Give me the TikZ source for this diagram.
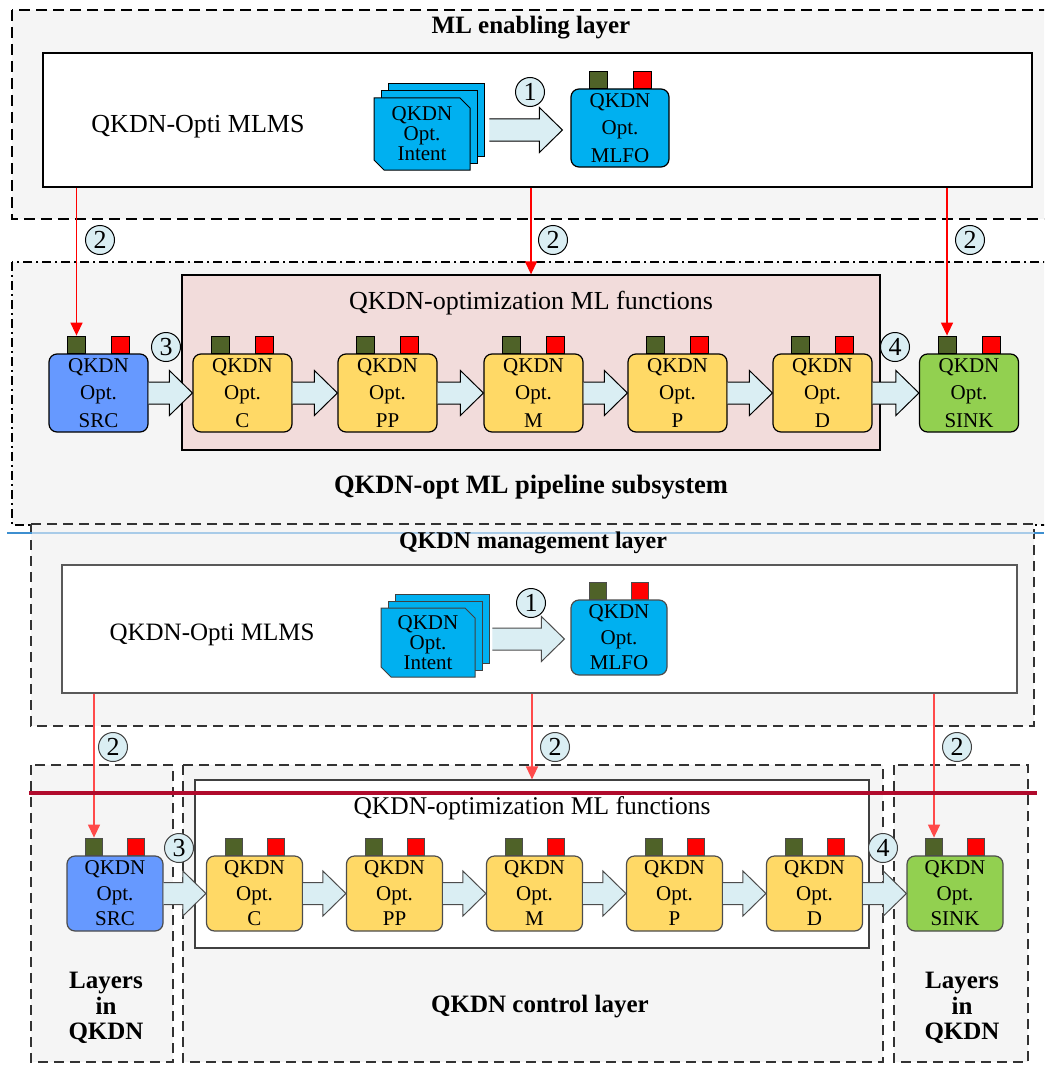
\documentclass[tikz,border=0pt]{standalone}
\usepackage{fontspec}
\setmainfont{Liberation Serif}
\usetikzlibrary{arrows.meta,shapes.misc,calc}
\definecolor{bggray}{HTML}{F5F5F5}
\definecolor{cyanbox}{HTML}{00B0F0}
\definecolor{srcblue}{HTML}{6699FF}
\definecolor{yel}{HTML}{FFD966}
\definecolor{grn}{HTML}{92D050}
\definecolor{portg}{HTML}{4F6228}
\definecolor{portr}{HTML}{FF0000}
\definecolor{arrfill}{HTML}{DAEEF3}
\definecolor{pinkbox}{HTML}{F2DCDB}
\definecolor{lineblue}{HTML}{3D8FD0}
\definecolor{lineblue2}{HTML}{A8CBE8}
\definecolor{darkred}{HTML}{B00A2C}
\definecolor{redl}{HTML}{FF4A4A}
\newcommand\blkarrow[2]{%
  \draw[blk] ($#1+(0,-11)$) -- ($#2+(-23,-11)$) -- ($#2+(-23,-22.5)$) -- #2
    -- ($#2+(-23,22.5)$) -- ($#2+(-23,11)$) -- ($#1+(0,11)$);}
\begin{document}
\begin{tikzpicture}[x=1pt,y=-1pt,
  proc/.style={draw, rounded corners=8pt, line width=1.2pt, minimum width=99pt, minimum height=78pt, inner sep=0pt, align=center, font=\fontsize{21}{27.5}\selectfont},
  bproc/.style={proc, draw=black!70, minimum width=96pt, minimum height=75pt, font=\fontsize{21}{25.5}\selectfont},
  port/.style={draw, line width=0.8pt, minimum width=18pt, minimum height=17pt, inner sep=0pt, anchor=south},
  numc/.style={circle, draw, line width=1pt, fill=arrfill, minimum size=29pt, inner sep=0pt, font=\fontsize{26}{26}\selectfont},
  blk/.style={draw, fill=arrfill, line width=1pt, line join=miter},
  redarr/.style={draw=red, line width=1.4pt, -{Triangle[length=13pt,width=12pt]}},
  redarrb/.style={draw=redl, line width=1.3pt, -{Triangle[length=13pt,width=12pt]}},
  layerbox/.style={fill=bggray, draw, line width=1.5pt, dash pattern=on 11pt off 6pt},
  dashdotbox/.style={fill=bggray, draw, line width=1.3pt, dash pattern=on 9pt off 4pt on 2pt off 4pt},
  card/.style={chamfered rectangle, chamfered rectangle corners={north east, south west}, chamfered rectangle sep=5pt, draw, line width=1pt, fill=cyanbox, minimum width=96pt, minimum height=72pt, inner sep=0pt, align=center, font=\fontsize{21}{20}\selectfont},
  ttl/.style={font=\bfseries\fontsize{25}{25}\selectfont},
  big/.style={font=\fontsize{26}{26}\selectfont}]
\path[use as bounding box] (0,0) rectangle (1044,1070);
\clip (0,0) rectangle (1044,1070);

% ================= TOP FIGURE =================
\path[layerbox] (12,10) rectangle (1070,219);
\node[ttl] (ttl1) at (531,28) {ML enabling layer};
\node[draw, fill=white, line width=1.3pt, minimum width=989pt, minimum height=134pt, inner sep=0pt] (mlms1) at (537.5,120) {};
\node[big] (lab1) at (198,127) {QKDN-Opti MLMS};
\node[card] (int1c) at (436,120) {};
\node[card] (int1b) at (429,127) {};
\node[card] (int1) at (422,134) {QKDN\\Opt.\\Intent};
\node[proc, fill=cyanbox, minimum width=98pt] (mlfo1) at (620,128) {QKDN\\Opt.\\MLFO};
\coordinate (a1tip) at ($(mlfo1.west)+(-8,2)$);
\coordinate (a1tail) at ($(mlfo1.west)+(-81,2)$);
\blkarrow{(a1tail)}{(a1tip)}
\node[numc] (n1a) at (530,92) {1};

\path[dashdotbox] (12,262) rectangle (1070,525);
\node[draw, fill=pinkbox, line width=1.3pt, minimum width=698pt, minimum height=175pt, inner sep=0pt] (pink) at (531,362.5) {};
\node[big] (pinkl) at (531,303) {QKDN-optimization ML functions};
\node[ttl, font=\bfseries\fontsize{26.5}{26.5}\selectfont] (ttl2) at (531,487) {QKDN-opt ML pipeline subsystem};

\foreach \n/\x/\t/\c in {tsrc/98.5/SRC/srcblue, tc/242.5/C/yel, tpp/387.5/PP/yel, tm/533.5/M/yel, tp/677.5/P/yel, td/822.5/D/yel, tsink/969/SINK/grn}
  \node[proc, fill=\c] (\n) at (\x,393) {QKDN\\Opt.\\\t};
\foreach \n in {tsrc,tc,tpp,tm,tp,td,tsink,mlfo1} {
  \node[port, fill=portg] (\n-g) at ($(\n.north)+(-22,0)$) {};
  \node[port, fill=portr] (\n-r) at ($(\n.north)+(22,0)$) {};
}
\blkarrow{(tsrc.east)}{(tc.west)}
\blkarrow{(tc.east)}{(tpp.west)}
\blkarrow{(tpp.east)}{(tm.west)}
\blkarrow{(tm.east)}{(tp.west)}
\blkarrow{(tp.east)}{(td.west)}
\blkarrow{(td.east)}{(tsink.west)}
\node[numc] (n3a) at (166,347) {3};
\node[numc] (n4a) at (895,347) {4};

\draw[redarr] (tsrc-g.north |- mlms1.south) -- (tsrc-g.north);
\draw[redarr] (pink.north |- mlms1.south) -- (pink.north);
\draw[redarr] (tsink-g.north |- mlms1.south) -- (tsink-g.north);
\node[numc] (n2a) at (100,240) {2};
\node[numc] (n2b) at (553,240) {2};
\node[numc] (n2c) at (970,240) {2};

% ================= BOTTOM FIGURE =================
\path[layerbox, line width=1.3pt, dash pattern=on 10pt off 6pt, draw=black!80] (31,524) rectangle (1034,726);
\draw[lineblue2, line width=1.5pt] (32,533) -- (1034,533);
\draw[lineblue, line width=1.5pt] (7,533) -- (32,533) (1034,533) -- (1044,533);
\node[ttl, font=\bfseries\fontsize{24}{24}\selectfont] (ttl3) at (533,543) {QKDN management layer};
\node[draw=black!65, fill=white, line width=1.3pt, minimum width=955pt, minimum height=128pt, inner sep=0pt] (mlms2) at (539.5,629) {};
\node[big, font=\fontsize{25}{25}\selectfont] (lab2) at (212,635) {QKDN-Opti MLMS};
\node[card, draw=black!75, minimum width=94pt, minimum height=69pt] (int2c) at (442,628.5) {};
\node[card, draw=black!75, minimum width=94pt, minimum height=69pt] (int2b) at (435,635.5) {};
\node[card, draw=black!75, minimum width=94pt, minimum height=69pt] (int2) at (428,642.5) {QKDN\\Opt.\\Intent};
\node[bproc, fill=cyanbox] (mlfo2) at (619,637.5) {QKDN\\Opt.\\MLFO};
\coordinate (a2tip) at ($(mlfo2.west)+(-6,1.5)$);
\coordinate (a2tail) at ($(mlfo2.west)+(-78,1.5)$);
\begin{scope}[blk/.append style={draw=black!70}]
\blkarrow{(a2tail)}{(a2tip)}
\end{scope}
\node[numc] (n1b) at (531,603) {1};

\path[layerbox, line width=1.3pt, dash pattern=on 10pt off 6pt, draw=black!80] (31,765) rectangle (173,1062);
\path[layerbox, line width=1.3pt, dash pattern=on 10pt off 6pt, draw=black!80] (183,765) rectangle (883,1062);
\path[layerbox, line width=1.3pt, dash pattern=on 10pt off 6pt, draw=black!80] (894,765) rectangle (1028,1062);
\node[draw=black!75, fill=white, line width=1.2pt, minimum width=674pt, minimum height=168pt, inner sep=0pt] (inner) at (532,864) {};
\node[big, font=\fontsize{25.5}{25.5}\selectfont] (innerl) at (532,808) {QKDN-optimization ML functions};
\node[ttl, align=center, font=\bfseries\fontsize{25}{25.5}\selectfont] (lay1) at (106,1008) {Layers\\in\\QKDN};
\node[ttl, align=center, font=\bfseries\fontsize{25}{25.5}\selectfont] (lay2) at (962,1008) {Layers\\in\\QKDN};
\node[ttl, font=\bfseries\fontsize{25}{25}\selectfont] (ctl) at (540,1007) {QKDN control layer};

\foreach \n/\x/\t/\c in {bsrc/115/SRC/srcblue, bc/254.5/C/yel, bpp/394.5/PP/yel, bm/534.5/M/yel, bp/674.5/P/yel, bd/814.5/D/yel, bsink/955/SINK/grn}
  \node[bproc, fill=\c] (\n) at (\x,893.5) {QKDN\\Opt.\\\t};
\foreach \n in {bsrc,bc,bpp,bm,bp,bd,bsink,mlfo2} {
  \node[port, fill=portg, draw=black!70, minimum width=17pt] (\n-g) at ($(\n.north)+(-21,0)$) {};
  \node[port, fill=portr, draw=black!70, minimum width=17pt] (\n-r) at ($(\n.north)+(21,0)$) {};
}
\begin{scope}[blk/.append style={draw=black!70}]
\blkarrow{(bsrc.east)}{(bc.west)}
\blkarrow{(bc.east)}{(bpp.west)}
\blkarrow{(bpp.east)}{(bm.west)}
\blkarrow{(bm.east)}{(bp.west)}
\blkarrow{(bp.east)}{(bd.west)}
\blkarrow{(bd.east)}{(bsink.west)}
\end{scope}
\node[numc, draw=black!75] (n3b) at (179,848) {3};
\node[numc, draw=black!75] (n4b) at (883,848) {4};

\draw[redarrb] (bsrc-g.north |- mlms2.south) -- (bsrc-g.north);
\draw[redarrb] (inner.north |- mlms2.south) -- (inner.north);
\draw[redarrb] (bsink-g.north |- mlms2.south) -- (bsink-g.north);
\node[numc, draw=black!75] (n2d) at (113,747) {2};
\node[numc, draw=black!75] (n2e) at (555,747) {2};
\node[numc, draw=black!75] (n2f) at (957,747) {2};

\draw[darkred, line width=4pt] (29,793) -- (1037,793);
\end{tikzpicture}
\end{document}
